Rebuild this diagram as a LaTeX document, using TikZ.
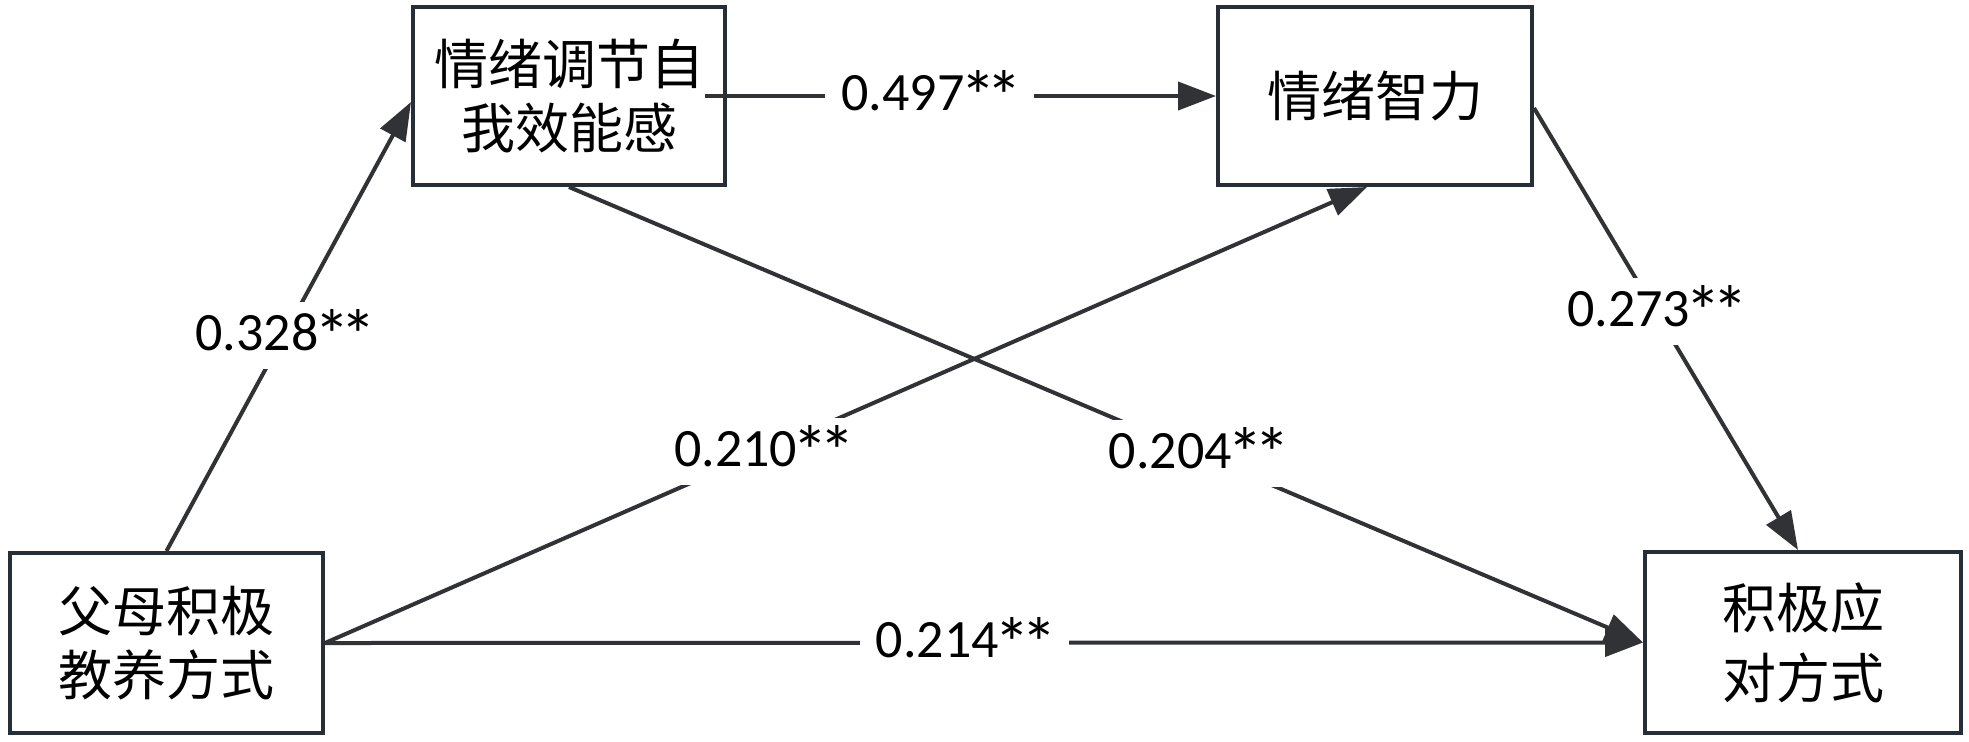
\documentclass[tikz,border=0pt]{standalone}
\usepackage{fontspec}
\usepackage{graphicx}
\setmainfont{Carlito}
\newfontfamily\cjk{Noto Sans CJK SC}
\usetikzlibrary{arrows.meta,calc}
\definecolor{linec}{RGB}{48,50,54}
\definecolor{boxc}{RGB}{40,46,54}
\newcommand\bigst{\makebox[0.498em]{\raisebox{-0.2em}{\scalebox{1.33}{*}}}}
\begin{document}
\begin{tikzpicture}[x=0.5pt,y=-0.5pt,
  box/.style={draw=boxc,line width=2pt,fill=white,align=center,inner sep=0pt,
    font=\cjk\fontsize{27pt}{32pt}\selectfont},
  conn/.style={draw=linec,line width=2pt,-{Triangle[length=19pt,width=14pt]}},
  lbl/.style={fill=white,inner xsep=8pt,inner ysep=4pt,
    font=\fontsize{27pt}{32pt}\selectfont}]
\useasboundingbox[fill=white] (0,0) rectangle (1969,741);

\node[box,minimum width=156.5pt,minimum height=90pt] (A) at (166.5,643) {父母积极\\教养方式};
\node[box,minimum width=156pt,minimum height=89pt] (B) at (569,96) {情绪调节自\\我效能感};
\node[box,minimum width=157pt,minimum height=89pt] (C) at (1375,96) {情绪智力};
\node[box,minimum width=158pt,minimum height=90.5pt,
  font=\cjk\fontsize{27pt}{35pt}\selectfont] (D) at (1803,642.5) {积极应\\对方式};

\coordinate (Bs) at (705,96);

\draw[conn] (A.north) -- node[lbl,pos=0.48]{0.328\bigst\bigst} ([yshift=-3pt]B.west);
\draw[conn] (Bs) -- node[lbl,pos=0.44]{0.497\bigst\bigst} (C.west);
\draw[conn] ([yshift=-6pt]C.east) -- node[lbl,pos=0.46]{0.273\bigst\bigst} ([xshift=-2.5pt]D.north);
\draw[conn] (A.east) -- node[lbl,pos=0.42]{0.210\bigst\bigst} ([xshift=-4pt]C.south);
\draw[conn] (B.south) -- node[lbl,pos=0.585]{0.204\bigst\bigst} (D.west);
\draw[conn] (A.east) -- node[lbl,pos=0.485]{0.214\bigst\bigst} (D.west);
\end{tikzpicture}
\end{document}
